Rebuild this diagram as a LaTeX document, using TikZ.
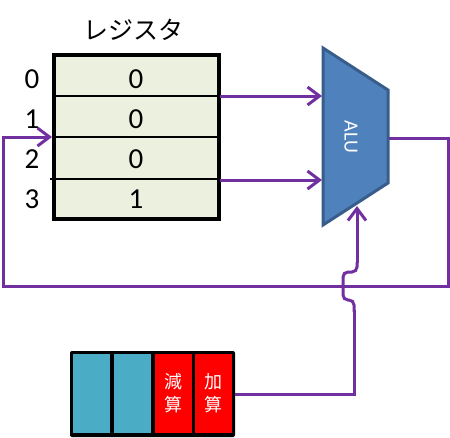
\documentclass[tikz,border=0pt]{standalone}
\usepackage{fontspec}
\setmainfont{Carlito}
\newfontfamily\jp{Noto Sans CJK JP}
\usetikzlibrary{arrows.meta}
\definecolor{wirec}{HTML}{7030A0}
\definecolor{regfill}{HTML}{EBF1DE}
\definecolor{alufill}{HTML}{4F81BD}
\definecolor{aluedge}{HTML}{385D8A}
\definecolor{cellteal}{HTML}{4BACC6}
\begin{document}
\begin{tikzpicture}[x=1pt,y=-1pt,
  wire/.style={draw=wirec, line width=3pt},
  arr/.style={-{Straight Barb[length=12pt,width=18pt,line width=3pt]}},
  digit/.style={font=\fontsize{29}{30}\selectfont, inner sep=0pt},
  cell/.style={minimum width=37pt, minimum height=79pt, inner sep=0pt},
  optext/.style={text=white, align=center, font=\jp\fontsize{18}{23}\selectfont}]
\useasboundingbox (0,0) rectangle (450,437);
% register
\node[font=\jp\fontsize{25}{26}\selectfont] (title) at (133,30) {レジスタ};
\node[draw, line width=4pt, fill=regfill, minimum width=164.5pt, minimum height=164pt, inner sep=0pt] (reg) at (136.25,137) {};
\draw[line width=2pt] (54,96) -- (218,96);
\draw[line width=2pt] (54,137) -- (218,137);
\draw[line width=2pt] (50,179) -- (218,179);
\foreach \i/\y/\v in {0/79/0,1/119/0,2/159/0,3/199/1}{
  \node[digit] (idx\i) at (32,\y) {\i};
  \node[digit] (val\i) at (136,\y) {\v};
}
% ALU
\draw[fill=alufill, draw=aluedge, line width=3pt] (323,48) -- (388,90) -- (388,183) -- (323,225) -- cycle;
\node[rotate=-90, text=white, font=\fontsize{20}{22}\selectfont] (alu) at (351,137) {ALU};
\coordinate (r1out) at (220,96);
\coordinate (r3out) at (220,180);
\coordinate (ain1) at (322,96);
\coordinate (ain2) at (322,180);
\coordinate (aout) at (389,138);
\coordinate (ain3) at (357,206);
\coordinate (regin) at (52,137);
% control register
\node[fill=black, minimum width=165pt, minimum height=86pt, inner sep=0pt, rounded corners=2pt] (ctl) at (152.5,394) {};
\node[cell, fill=cellteal] (c1) at (91,393.5) {};
\node[cell, fill=cellteal] (c2) at (132,393.5) {};
\node[cell, fill=red, optext] (c3) at (173.5,393.5) {減\\算};
\node[cell, fill=red, optext] (c4) at (213.5,393.5) {加\\算};
% wires
\draw[wire, arr] (r1out) -- (ain1);
\draw[wire, arr] (r3out) -- (ain2);
\draw[wire, arr] (aout) -- (448,138) -- (448,286) -- (3,286) -- (3,137) -- (regin);
\draw[wire] (ctl.east) -- (354,394) -- (354,310);
\draw[wire, rounded corners=5pt] (354,312) -- (354,300) -- (343,300) -- (343,272) -- (357,272) -- (357,262);
\draw[wire, arr] (357,263) -- (ain3);
\end{tikzpicture}
\end{document}
